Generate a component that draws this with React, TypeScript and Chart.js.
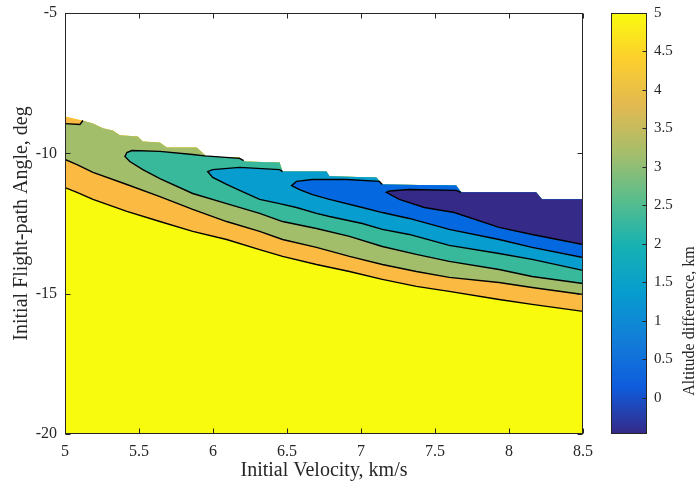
import React, { useEffect, useRef } from 'react';
import { Chart, registerables } from 'chart.js';

Chart.register(...registerables);

// ---------- axis ticks ----------
const velocityTicks = [5, 5.5, 6, 6.5, 7, 7.5, 8, 8.5];
const angleTicks = [-5, -10, -15, -20];
const colorbarTicks = [0, 0.5, 1, 1.5, 2, 2.5, 3, 3.5, 4, 4.5, 5];
const colorLimits = [-0.47, 5];

// ---------- data ([velocity km/s, flight-path angle deg]) ----------
// upper edge of the valid data (no data above it)
const dataEdge: number[][] = [
  [5.0, -8.69], [5.115, -8.83], [5.189, -8.94], [5.256, -9.11], [5.324, -9.19],
  [5.371, -9.36], [5.492, -9.40], [5.526, -9.58], [5.641, -9.61], [5.688, -9.79],
  [5.890, -9.79], [5.958, -10.11], [6.180, -10.15], [6.214, -10.29], [6.450, -10.33],
  [6.470, -10.65], [6.767, -10.65], [6.787, -10.82], [7.104, -10.86], [7.144, -11.11],
  [7.643, -11.15], [7.677, -11.39], [8.183, -11.39], [8.223, -11.64], [8.5, -11.64],
];

// contour: 5 km (yellow / orange)
const c5Line: number[][] = [
  [5.0, -11.22], [5.081, -11.39], [5.189, -11.64], [5.418, -12.07], [5.641, -12.43],
  [5.863, -12.78], [6.092, -13.07], [6.315, -13.43], [6.470, -13.67], [6.699, -13.96],
  [6.922, -14.21], [7.144, -14.49], [7.374, -14.74], [7.596, -14.92], [7.933, -15.21],
  [8.156, -15.38], [8.5, -15.63],
];

// contour: 4 km (orange / olive)
const c4Line: number[][] = [
  [5.0, -10.22], [5.081, -10.40], [5.189, -10.68], [5.418, -11.11], [5.641, -11.54],
  [5.863, -12.00], [6.092, -12.43], [6.315, -12.78], [6.470, -13.07], [6.699, -13.35],
  [6.922, -13.67], [7.144, -13.96], [7.374, -14.21], [7.596, -14.42], [7.933, -14.60],
  [8.156, -14.78], [8.5, -15.03],
];
const c4Sliver: number[][] = [[5.0, -8.94], [5.101, -8.97], [5.121, -8.83]];

// contour: 3 km (olive / teal)
const c3Upper: number[][] = [
  [5.405, -10.11], [5.418, -9.97], [5.452, -9.90], [5.641, -9.93], [5.863, -10.04],
  [5.944, -10.09], [6.180, -10.18], [6.207, -10.26],
];
const c3Lower: number[][] = [
  [5.405, -10.11], [5.438, -10.29], [5.526, -10.58], [5.641, -10.90], [5.863, -11.43],
  [6.092, -11.79], [6.315, -12.14], [6.470, -12.43], [6.699, -12.68], [6.922, -12.96],
  [7.144, -13.32], [7.374, -13.60], [7.596, -13.85], [7.933, -14.14], [8.156, -14.39],
  [8.5, -14.64],
];

// contour: 2 km (teal / light blue)
const c2Upper: number[][] = [
  [5.964, -10.65], [5.998, -10.58], [6.180, -10.50], [6.450, -10.58], [6.470, -10.65],
];
const c2Lower: number[][] = [
  [5.964, -10.65], [5.998, -10.86], [6.092, -11.11], [6.180, -11.32], [6.315, -11.64],
  [6.450, -11.79], [6.564, -11.93], [6.699, -12.14], [6.787, -12.25], [7.009, -12.50],
  [7.144, -12.71], [7.326, -12.89], [7.596, -13.28], [7.933, -13.57], [8.156, -13.78],
  [8.5, -14.17],
];

// contour: 1 km (light blue / blue)
const c1Upper: number[][] = [
  [6.531, -11.15], [6.564, -11.00], [6.672, -10.93], [6.902, -10.93], [7.124, -11.00],
  [7.144, -11.11],
];
const c1Lower: number[][] = [
  [6.531, -11.15], [6.585, -11.29], [6.672, -11.47], [6.787, -11.64], [7.009, -11.93],
  [7.144, -12.11], [7.326, -12.32], [7.596, -12.71], [7.933, -13.07], [8.156, -13.35],
  [8.5, -13.71],
];

// contour: 0 km (blue / navy)
const c0Upper: number[][] = [
  [7.171, -11.39], [7.192, -11.34], [7.326, -11.29], [7.643, -11.32], [7.677, -11.39],
];
const c0Lower: number[][] = [
  [7.171, -11.39], [7.259, -11.64], [7.428, -11.93], [7.630, -12.11], [7.933, -12.64],
  [8.156, -12.89], [8.5, -13.25],
];

// ---------- styles ----------
const FONT = "'Liberation Serif', 'Times New Roman', serif";
const INK = '#262626';
const regionColors = {
  yellow: '#f9fb0e',
  orange: '#fbbb42',
  olive: '#a3be6b',
  teal: '#38b99c',
  lightBlue: '#089dcf',
  blue: '#0468e1',
  navy: '#352a87',
};
const parulaStops: [number, string][] = [
  [0, 'rgb(53,42,135)'],
  [0.111, 'rgb(15,92,221)'],
  [0.222, 'rgb(18,125,216)'],
  [0.333, 'rgb(7,156,207)'],
  [0.444, 'rgb(21,177,180)'],
  [0.556, 'rgb(89,189,140)'],
  [0.667, 'rgb(165,190,107)'],
  [0.778, 'rgb(225,185,82)'],
  [0.889, 'rgb(252,206,46)'],
  [1, 'rgb(249,251,14)'],
];

const toPts = (arr: number[][]) => arr.map(([x, y]) => ({ x, y }));

// region bounded below by `lower`, above by `upper` and the data edge
function lobe(lower: number[][], upper: number[][]) {
  const lastV = upper.length ? upper[upper.length - 1][0] : -Infinity;
  const edge = dataEdge.filter((p) => p[0] > lastV + 1e-9).reverse();
  return [...lower, ...edge, ...upper.slice().reverse()];
}
function contourPath(lower: number[][], upper: number[][]) {
  return [...upper.slice().reverse(), ...lower.slice(1)];
}

const fillSet = (pts: number[][], color: string, fill: any = 'shape') => ({
  data: toPts(pts),
  fill,
  backgroundColor: color,
  borderWidth: 0,
  borderColor: 'rgba(0,0,0,0)',
  pointRadius: 0,
});
const lineSet = (pts: number[][]) => ({
  data: toPts(pts),
  fill: false,
  borderColor: '#000000',
  borderWidth: 1.4,
  pointRadius: 0,
});

const axesBox = {
  id: 'axesBox',
  afterDraw(chart: any) {
    const { ctx, chartArea: a, scales } = chart;
    const L = Math.round(a.left) + 0.5;
    const R = Math.round(a.right) - 0.5;
    const T = Math.round(a.top) + 0.5;
    const B = Math.round(a.bottom) - 0.5;
    ctx.save();
    ctx.strokeStyle = INK;
    ctx.lineWidth = 1;
    ctx.beginPath();
    velocityTicks.forEach((v) => {
      const px = Math.round(scales.x.getPixelForValue(v)) + 0.5;
      ctx.moveTo(px, B); ctx.lineTo(px, B - 5);
      ctx.moveTo(px, T); ctx.lineTo(px, T + 5);
    });
    angleTicks.forEach((v) => {
      const py = Math.round(scales.y.getPixelForValue(v)) + 0.5;
      ctx.moveTo(L, py); ctx.lineTo(L + 5, py);
      ctx.moveTo(R, py); ctx.lineTo(R - 5, py);
    });
    ctx.stroke();
    ctx.strokeRect(L, T, R - L, B - T);
    ctx.restore();
  },
};

const colorbarBox = {
  id: 'colorbarBox',
  afterDraw(chart: any) {
    const { ctx, chartArea: a, scales } = chart;
    const L = Math.round(a.left) + 0.5;
    const R = Math.round(a.right) - 0.5;
    const T = Math.round(a.top) + 0.5;
    const B = Math.round(a.bottom) - 0.5;
    ctx.save();
    ctx.strokeStyle = INK;
    ctx.lineWidth = 1;
    ctx.beginPath();
    colorbarTicks.forEach((v) => {
      const py = Math.round(scales.y.getPixelForValue(v)) + 0.5;
      ctx.moveTo(R, py); ctx.lineTo(R - 4, py);
    });
    ctx.stroke();
    ctx.strokeRect(L, T, R - L, B - T);
    ctx.fillStyle = INK;
    ctx.font = `16px ${FONT}`;
    ctx.textAlign = 'center';
    ctx.textBaseline = 'middle';
    ctx.translate(90, 321);
    ctx.rotate(-Math.PI / 2);
    ctx.fillText('Altitude difference, km', 0, 0);
    ctx.restore();
  },
};

export default function App() {
  const mainRef = useRef<HTMLCanvasElement>(null);
  const barRef = useRef<HTMLCanvasElement>(null);

  useEffect(() => {
    const datasets: any[] = [
      lineSet(contourPath(c0Lower, c0Upper)),
      lineSet(contourPath(c1Lower, c1Upper)),
      lineSet(contourPath(c2Lower, c2Upper)),
      lineSet(contourPath(c3Lower, c3Upper)),
      lineSet(c4Sliver),
      lineSet(c4Line),
      lineSet(c5Line),
      fillSet(lobe(c0Lower, c0Upper), regionColors.navy),
      fillSet(lobe(c1Lower, c1Upper), regionColors.blue),
      fillSet(lobe(c2Lower, c2Upper), regionColors.lightBlue),
      fillSet(lobe(c3Lower, c3Upper), regionColors.teal),
      fillSet(lobe(c4Line, c4Sliver), regionColors.olive),
      fillSet(lobe(c5Line, []), regionColors.orange),
      fillSet(dataEdge, regionColors.yellow, 'start'),
    ];

    const main = new Chart(mainRef.current as HTMLCanvasElement, {
      type: 'line',
      data: { datasets },
      options: {
        responsive: false,
        animation: false,
        events: [],
        layout: { padding: { top: 13, right: 17, bottom: 0, left: 0 } },
        elements: { line: { tension: 0 }, point: { radius: 0 } },
        plugins: { legend: { display: false }, tooltip: { enabled: false } },
        scales: {
          x: {
            type: 'linear',
            min: 5,
            max: 8.5,
            afterBuildTicks: (s: any) => { s.ticks = velocityTicks.map((value) => ({ value })); },
            afterFit: (s: any) => { s.height = 49; },
            grid: { display: false, drawTicks: true, tickLength: 8 },
            border: { display: false },
            ticks: {
              padding: 0,
              autoSkip: false,
              maxRotation: 0,
              color: INK,
              font: { family: FONT, size: 16 },
              callback: (v: any) => String(v),
            },
            title: {
              display: true,
              text: 'Initial Velocity, km/s',
              color: INK,
              font: { family: FONT, size: 20 },
              padding: { top: 0, bottom: 0 },
            },
          },
          y: {
            type: 'linear',
            min: -20,
            max: -5,
            afterBuildTicks: (s: any) => { s.ticks = angleTicks.map((value) => ({ value })); },
            afterFit: (s: any) => { s.width = 65; },
            grid: { display: false, drawTicks: true, tickLength: 8 },
            border: { display: false },
            ticks: {
              padding: 0,
              autoSkip: false,
              color: INK,
              font: { family: FONT, size: 16 },
              callback: (v: any) => String(v),
            },
            title: {
              display: true,
              text: 'Initial Flight-path Angle, deg',
              color: INK,
              font: { family: FONT, size: 20 },
              padding: { top: 10, bottom: 0 },
            },
          },
        },
      } as any,
      plugins: [axesBox],
    });

    const bar = new Chart(barRef.current as HTMLCanvasElement, {
      type: 'bar',
      data: {
        labels: [''],
        datasets: [
          {
            data: [[colorLimits[0], colorLimits[1]]] as any,
            backgroundColor: (c: any) => {
              const area = c.chart.chartArea;
              if (!area) return regionColors.teal;
              const g = c.chart.ctx.createLinearGradient(0, area.bottom, 0, area.top);
              parulaStops.forEach(([t, col]) => g.addColorStop(t, col));
              return g;
            },
            borderWidth: 0,
            barPercentage: 1,
            categoryPercentage: 1,
          },
        ],
      },
      options: {
        responsive: false,
        animation: false,
        events: [],
        layout: { padding: { top: 13, left: 11, bottom: 49, right: 0 } },
        plugins: { legend: { display: false }, tooltip: { enabled: false } },
        scales: {
          x: { display: false },
          y: {
            position: 'right',
            min: colorLimits[0],
            max: colorLimits[1],
            afterBuildTicks: (s: any) => { s.ticks = colorbarTicks.map((value) => ({ value })); },
            afterFit: (s: any) => { s.width = 49; },
            grid: { display: false, drawTicks: true, tickLength: 7 },
            border: { display: false },
            ticks: {
              padding: 0,
              autoSkip: false,
              color: INK,
              font: { family: FONT, size: 15 },
              callback: (v: any) => String(v),
            },
          },
        },
      } as any,
      plugins: [colorbarBox],
    });

    return () => {
      main.destroy();
      bar.destroy();
    };
  }, []);

  return (
    <div style={{ position: 'fixed', left: 0, top: 0, width: 696, height: 483, background: '#ffffff' }}>
      <canvas ref={mainRef} width={600} height={483} style={{ position: 'absolute', left: 0, top: 0, width: 600, height: 483 }} />
      <canvas ref={barRef} width={96} height={483} style={{ position: 'absolute', left: 600, top: 0, width: 96, height: 483 }} />
    </div>
  );
}
